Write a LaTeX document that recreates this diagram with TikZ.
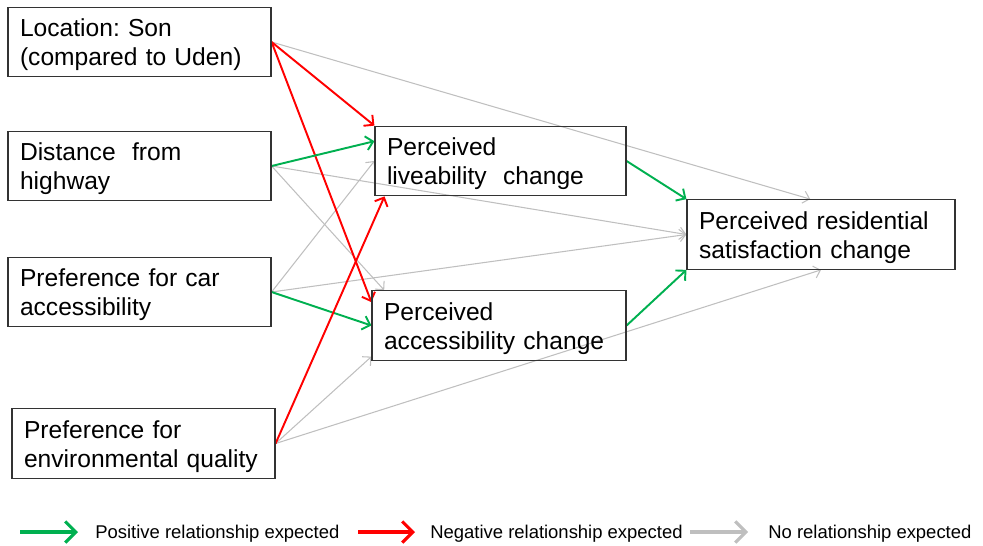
\documentclass[tikz,border=0pt]{standalone}
\usepackage{fontspec}
\setmainfont{Liberation Sans}
\usetikzlibrary{calc, positioning, arrows.meta, backgrounds}
\definecolor{posgreen}{RGB}{0,176,80}
\definecolor{negred}{RGB}{255,0,0}
\definecolor{nullgray}{RGB}{191,191,191}
\hyphenpenalty=10000
\frenchspacing

\begin{document}
\begin{tikzpicture}[x=0.02cm, y=-0.02cm,
    box/.style={draw=black!80, line width=0.7pt, align=left,
      inner xsep=0.24cm, text width=#1-0.48cm, minimum height=1.35cm,
      font=\fontsize{14}{16.5}\selectfont,
      execute at begin node={\rule{0pt}{13.5pt}}},
    posrel/.style={-{Straight Barb[length=4pt,width=8pt]}, posgreen, line width=1.1pt},
    negrel/.style={-{Straight Barb[length=4pt,width=8pt]}, negred, line width=1.1pt},
    nullrel/.style={-{Straight Barb[length=3.5pt,width=7pt]}, nullgray, line width=0.6pt},
    legarrow/.style={-{Straight Barb[length=6pt,width=12pt]}, line width=1.8pt},
    legtext/.style={anchor=west, inner sep=0pt, font=\fontsize{10.5}{12}\selectfont},
  ]
    \useasboundingbox (0,0) rectangle (983,545);

    % predictors
    \node[box=5.26cm] (loc) at (139.5,42) {Location: Son\\(compared to Uden)};
    \node[box=5.26cm] (dist) at (139.5,166) {Distance \ from\\highway};
    \node[box=5.26cm] (car) at (139.5,292) {Preference for car\\accessibility};
    \node[box=5.26cm] (env) at (143.5,443.5) {Preference for\\environmental quality};

    % mediators and outcome
    \node[box=5.02cm] (live) at (500.5,161) {Perceived\\liveability \ change};
    \node[box=5.08cm] (acc) at (499,325.5) {Perceived\\accessibility change};
    \node[box=5.36cm] (sat) at (821,234.5) {Perceived residential\\satisfaction change};

    \begin{scope}[on background layer]
      % gray paths first
      \draw[nullrel] (loc.east) -- ($(sat.north west)!0.46!(sat.north east)$);
      \draw[nullrel] (dist.east) -- (sat.west);
      \draw[nullrel] (dist.east) -- ($(acc.north west)!0.05!(acc.north east)$);
      \draw[nullrel] (car.east) -- (live.west);
      \draw[nullrel] (car.east) -- (sat.west);
      \draw[nullrel] (env.east) -- ($(acc.north west)!0.94!(acc.south west)$);
      \draw[nullrel] (env.east) -- (sat.south);

      % expected effects
      \draw[negrel] (loc.east) -- (live.north west);
      \draw[negrel] (loc.east) -- ($(acc.north west)!0.17!(acc.south west)$);
      \draw[posrel] (dist.east) -- ($(live.north west)!0.22!(live.south west)$);
      \draw[posrel] (car.east) -- (acc.west);
      \draw[negrel] (env.east) -- ($(live.south west)!0.04!(live.south east)$);
      \draw[posrel] (live.east) -- (sat.north west);
      \draw[posrel] (acc.east) -- (sat.south west);
    \end{scope}

    % legend
    \coordinate (g1) at (20,532);
    \coordinate (g2) at (78,532);
    \coordinate (r1) at (358,532);
    \coordinate (r2) at (415,532);
    \coordinate (n1) at (690,532);
    \coordinate (n2) at (748,532);
    \draw[legarrow, posgreen] (g1) -- (g2);
    \draw[legarrow, negred] (r1) -- (r2);
    \draw[legarrow, nullgray] (n1) -- (n2);
    \node[legtext] (gtxt) at (95,534) {Positive relationship expected};
    \node[legtext] (rtxt) at (430,534) {Negative relationship expected};
    \node[legtext] (ntxt) at (768,534) {No relationship expected};
  \end{tikzpicture}
\end{document}
